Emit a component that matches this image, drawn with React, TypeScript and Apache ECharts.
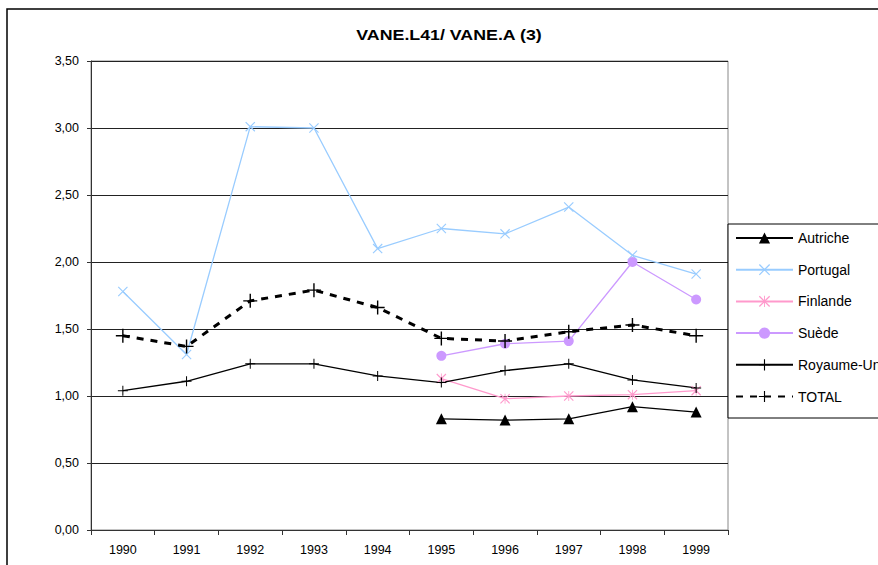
import React, { useEffect, useRef } from 'react';
import * as echarts from 'echarts';

const years = ['1990', '1991', '1992', '1993', '1994', '1995', '1996', '1997', '1998', '1999'];
const yTicks = [0, 0.5, 1, 1.5, 2, 2.5, 3, 3.5];

const autriche = [null, null, null, null, null, 0.83, 0.82, 0.83, 0.92, 0.88];
const portugal = [1.78, 1.31, 3.01, 3.0, 2.1, 2.25, 2.21, 2.41, 2.05, 1.91];
const finlande = [null, null, null, null, null, 1.13, 0.98, 1.0, 1.01, 1.04];
const suede = [null, null, null, null, null, 1.3, 1.39, 1.41, 2.0, 1.72];
const royaumeUni = [1.04, 1.11, 1.24, 1.24, 1.15, 1.1, 1.19, 1.24, 1.12, 1.06];
const total = [1.45, 1.37, 1.71, 1.79, 1.66, 1.43, 1.41, 1.48, 1.53, 1.45];

const title = 'VANE.L41/ VANE.A (3)';

const PLUS = 'path://M4.5,0H5.5V10H4.5Z M0,4.5H10V5.5H0Z';
const CROSS = 'path://M0,0.8L0.8,0L10,9.2L9.2,10Z M9.2,0L10,0.8L0.8,10L0,9.2Z';
const STAR = 'path://M0,0.8L0.8,0L10,9.2L9.2,10Z M9.2,0L10,0.8L0.8,10L0,9.2Z M4.6,0H5.4V10H4.6Z';

const FONT = 'Liberation Sans, Arial, sans-serif';

export default function App() {
  const ref = useRef<HTMLDivElement>(null);
  useEffect(() => {
    if (!ref.current) return;
    const chart = echarts.init(ref.current, null, { renderer: 'svg' });
    const mk = (name: string, data: (number | null)[], color: string, symbol: string, size: number, extra: any = {}) => ({
      name,
      type: 'line',
      data,
      symbol,
      symbolSize: size,
      showAllSymbol: true,
      connectNulls: false,
      itemStyle: { color },
      lineStyle: { color, width: 1.3, ...(extra.lineStyle || {}) },
      emphasis: { disabled: true },
    });
    chart.setOption({
      animation: false,
      textStyle: { fontFamily: FONT },
      graphic: [
        {
          type: 'rect',
          shape: { x: 7, y: 9, width: 900, height: 600 },
          style: { fill: 'none', stroke: '#000', lineWidth: 1.5 },
          z: 0,
        },
        {
          type: 'rect',
          shape: { x: 728, y: 224, width: 200, height: 194 },
          style: { fill: '#fff', stroke: '#000', lineWidth: 1 },
          z: 1,
        },
        {
          type: 'text',
          x: 449,
          y: 35.5,
          scaleX: 1.27,
          style: {
            text: title,
            fill: '#000',
            font: `bold 14px ${FONT}`,
            textAlign: 'center',
            textVerticalAlign: 'middle',
          },
        },
      ],
      grid: {
        left: 91,
        right: 150,
        top: 61,
        bottom: 35,
        show: true,
        borderColor: '#888',
        borderWidth: 1,
        backgroundColor: '#fff',
      },
      legend: {
        orient: 'vertical',
        left: 730,
        top: 226,
        itemWidth: 57,
        itemHeight: 14,
        itemGap: 17.7,
        textStyle: { fontSize: 14, color: '#000', fontFamily: FONT },
        data: ['Autriche', 'Portugal', 'Finlande', 'Suède', 'Royaume-Uni', 'TOTAL'],
        z: 5,
      },
      xAxis: {
        type: 'category',
        data: years,
        boundaryGap: true,
        axisLine: { show: true, lineStyle: { color: '#333', width: 1 } },
        axisTick: { show: true, length: 5, lineStyle: { color: '#333' } },
        axisLabel: { color: '#000', fontSize: 12.5, margin: 13, fontFamily: FONT },
        splitLine: { show: false },
      },
      yAxis: {
        type: 'value',
        min: yTicks[0],
        max: yTicks[yTicks.length - 1],
        interval: 0.5,
        axisLine: { show: true, lineStyle: { color: '#333', width: 1 } },
        axisTick: { show: true, length: 4, lineStyle: { color: '#333' } },
        axisLabel: {
          color: '#000',
          fontSize: 12.5,
          margin: 12,
          fontFamily: FONT,
          formatter: (v: number) => v.toFixed(2).replace('.', ','),
        },
        splitLine: { show: true, lineStyle: { color: '#222', width: 1 } },
      },
      series: [
        mk('Autriche', autriche, '#000', 'triangle', 11),
        mk('Portugal', portugal, '#99CCFF', CROSS, 10),
        mk('Finlande', finlande, '#FF99CC', STAR, 10),
        mk('Suède', suede, '#CC99FF', 'circle', 10),
        mk('Royaume-Uni', royaumeUni, '#000', PLUS, 10),
        mk('TOTAL', total, '#000', PLUS, 14, { lineStyle: { width: 3, type: [7, 7] } }),
      ],
    });
    return () => chart.dispose();
  }, []);
  return (
    <div
      ref={ref}
      style={{ position: 'fixed', left: 0, top: 0, width: 878, height: 565, background: '#fff' }}
    />
  );
}
